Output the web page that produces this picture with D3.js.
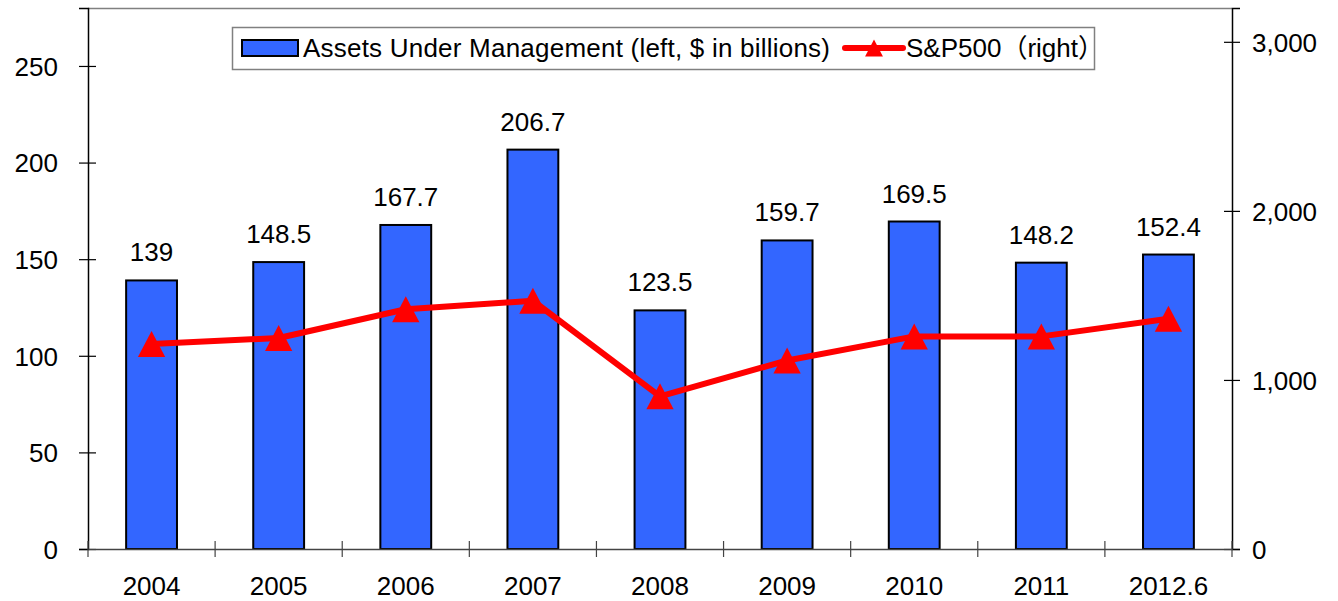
<!DOCTYPE html>
<meta charset="utf-8">
<head>
  <title>AUM vs S&amp;P500</title>
</head>

<style>
  body {
    margin: 0;
    background: #fff;
    font-family: "Liberation Sans", Arial, "Noto Sans CJK JP", sans-serif;
  }
  text { fill: #000; }
</style>

<body>
<svg id="chart" width="1338" height="601"></svg>

<script src="https://cdnjs.cloudflare.com/ajax/libs/d3/7.8.5/d3.min.js"></script>
<script>
  var years = ["2004", "2005", "2006", "2007", "2008", "2009", "2010", "2011", "2012.6"];
  var assets = [139, 148.5, 167.7, 206.7, 123.5, 159.7, 169.5, 148.2, 152.4];
  var assetLabels = ["139", "148.5", "167.7", "206.7", "123.5", "159.7", "169.5", "148.2", "152.4"];
  var sp500 = [1211.9, 1248.3, 1418.3, 1468.4, 903.3, 1115.1, 1257.6, 1257.6, 1362.2];
  var leftTicks = [0, 50, 100, 150, 200, 250];
  var rightTicks = [0, 1000, 2000, 3000];

  var plotLeft = 88, plotRight = 1232, plotTop = 8, plotBottom = 549;

  var svg = d3.select('#chart');

  var x = d3.scaleBand()
    .domain(years)
    .range([plotLeft, plotRight])
    .paddingInner(0.6)
    .paddingOuter(0.3);

  var xCell = d3.scaleBand()
    .domain(years)
    .range([plotLeft, plotRight]);

  var yL = d3.scaleLinear().domain([0, 280]).range([plotBottom, plotTop]);
  var yR = d3.scaleLinear().domain([0, 3200]).range([plotBottom, plotTop]);

  // top border of plot area
  svg.append('line')
    .attr('x1', plotLeft).attr('x2', plotRight)
    .attr('y1', plotTop + 0.5).attr('y2', plotTop + 0.5)
    .attr('stroke', '#808080').attr('stroke-width', 1.5);

  // bars
  svg.append('g')
    .selectAll('rect')
    .data(assets)
    .enter()
    .append('rect')
    .attr('x', function(d, i) { return x(years[i]); })
    .attr('y', function(d) { return yL(d); })
    .attr('width', x.bandwidth())
    .attr('height', function(d) { return yL(0) - yL(d); })
    .attr('fill', '#3366FF')
    .attr('stroke', '#000')
    .attr('stroke-width', 2);

  // bar labels
  svg.append('g')
    .selectAll('text')
    .data(assets)
    .enter()
    .append('text')
    .attr('x', function(d, i) { return x(years[i]) + x.bandwidth() / 2; })
    .attr('y', function(d) { return yL(d) - 19; })
    .attr('text-anchor', 'middle')
    .style('font-size', '26px')
    .text(function(d, i) { return assetLabels[i]; });

  // left axis
  var gL = svg.append('g')
    .attr('transform', 'translate(' + plotLeft + ',0)')
    .call(d3.axisLeft(yL).tickValues(leftTicks).tickSize(9).tickPadding(21));
  gL.select('.domain').attr('stroke', '#000').attr('stroke-width', 1.5);
  gL.selectAll('.tick line').attr('x1', 8).attr('x2', -9).attr('stroke', '#000').attr('stroke-width', 1.2);
  gL.selectAll('.tick text').style('font-size', '26px').attr('dy', '0.36em');

  // right axis
  var gR = svg.append('g')
    .attr('transform', 'translate(' + plotRight + ',0)')
    .call(d3.axisRight(yR).tickValues(rightTicks).tickSize(8).tickPadding(12).tickFormat(d3.format(',')));
  gR.select('.domain').attr('stroke', '#000').attr('stroke-width', 1.5);
  gR.selectAll('.tick line').attr('x1', -8).attr('x2', 8).attr('stroke', '#000').attr('stroke-width', 1.2);
  gR.selectAll('.tick text').style('font-size', '26px').attr('dy', '0.36em');

  // bottom axis
  var gB = svg.append('g')
    .attr('transform', 'translate(0,' + plotBottom + ')')
    .call(d3.axisBottom(xCell).tickSize(0));
  gB.select('.domain').attr('stroke', '#444').attr('stroke-width', 1.5);
  gB.selectAll('.tick text').style('font-size', '26px').attr('y', 46).attr('dy', null);

  var bounds = years.map(function(c) { return xCell(c); }).concat([plotRight]);
  gB.selectAll('.bound')
    .data(bounds)
    .enter()
    .append('line')
    .attr('class', 'bound')
    .attr('x1', function(d) { return d; }).attr('x2', function(d) { return d; })
    .attr('y1', -8).attr('y2', 8)
    .attr('stroke', '#444').attr('stroke-width', 1.2);

  // S&P line
  var line = d3.line()
    .x(function(d, i) { return x(years[i]) + x.bandwidth() / 2; })
    .y(function(d) { return yR(d); });

  svg.append('path')
    .datum(sp500)
    .attr('d', line)
    .attr('fill', 'none')
    .attr('stroke', '#FF0000')
    .attr('stroke-width', 6)
    .attr('stroke-linejoin', 'round');

  // triangle centred on its box, like the original markers
  var boxTriangle = {
    draw: function(ctx, size) {
      var h = Math.sqrt(size) / 2;
      ctx.moveTo(0, -h);
      ctx.lineTo(h * 1.05, h);
      ctx.lineTo(-h * 1.05, h);
      ctx.closePath();
    }
  };

  svg.append('g')
    .selectAll('path')
    .data(sp500)
    .enter()
    .append('path')
    .attr('transform', function(d, i) {
      return 'translate(' + (x(years[i]) + x.bandwidth() / 2) + ',' + yR(d) + ')';
    })
    .attr('d', d3.symbol(boxTriangle, 26 * 26))
    .attr('fill', '#FF0000');

  // legend
  var lg = svg.append('g');
  lg.append('rect')
    .attr('x', 232.5).attr('y', 27.5)
    .attr('width', 862).attr('height', 42)
    .attr('fill', '#fff')
    .attr('stroke', '#808080').attr('stroke-width', 1.5);
  lg.append('rect')
    .attr('x', 242).attr('y', 40)
    .attr('width', 56).attr('height', 16)
    .attr('fill', '#3366FF')
    .attr('stroke', '#000').attr('stroke-width', 2);
  lg.append('text')
    .attr('x', 303).attr('y', 57)
    .style('font-size', '26px')
    .attr('textLength', 527)
    .text('Assets Under Management (left, $ in billions)');
  lg.append('line')
    .attr('x1', 845).attr('x2', 903)
    .attr('y1', 48).attr('y2', 48)
    .attr('stroke', '#FF0000').attr('stroke-width', 6)
    .attr('stroke-linecap', 'round');
  lg.append('path')
    .attr('transform', 'translate(874,48)')
    .attr('d', d3.symbol(boxTriangle, 17 * 17))
    .attr('fill', '#FF0000');
  lg.append('text')
    .attr('x', 906).attr('y', 57)
    .style('font-size', '26px')
    .text('S&P500（right）');
</script>
</body>
</html>
